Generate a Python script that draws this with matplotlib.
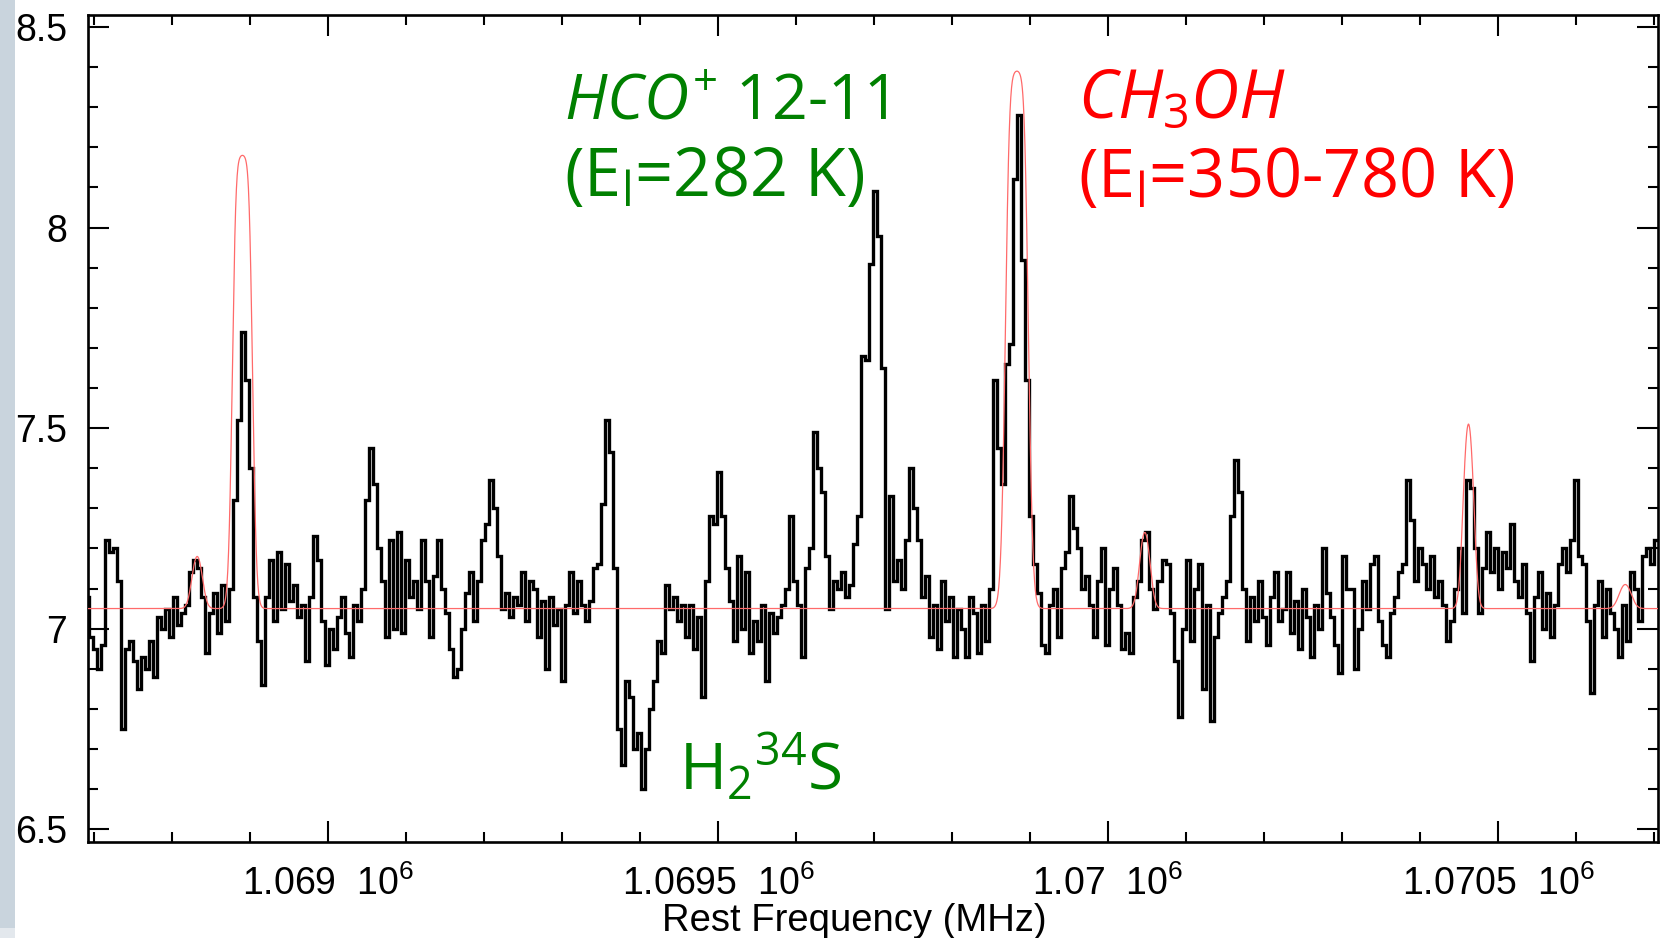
import numpy as np
import matplotlib
matplotlib.use('Agg')
import matplotlib.pyplot as plt
from matplotlib.patches import Rectangle
from matplotlib.ticker import FixedLocator, MultipleLocator

plt.rcParams['font.family'] = ['Liberation Sans', 'DejaVu Sans']
plt.rcParams['mathtext.fontset'] = 'custom'
plt.rcParams['mathtext.rm'] = 'Open Sans'
plt.rcParams['mathtext.it'] = 'Open Sans:italic'

# ---------------- data ----------------
freq_start_mhz = 1068691.0
channel_width_mhz = 5.13

spectrum_k = [
    # first block
    7.08, 6.98, 6.95, 6.90, 6.96, 7.22, 7.19, 7.20, 7.12, 6.75,
    6.95, 6.97, 6.92, 6.85, 6.93, 6.90, 6.97, 6.88, 7.03, 7.00,
    7.05, 6.98, 7.08, 7.01, 7.04, 7.06, 7.14, 7.17, 7.15, 7.08,
    6.94, 7.04, 7.09, 6.99, 7.11, 7.02, 7.10, 7.32, 7.52, 7.74,
    7.62, 7.40, 7.08, 6.97, 6.86, 7.08, 7.17, 7.02, 7.19, 7.05,
    7.16, 7.07, 7.11, 7.03, 7.06, 6.92, 7.08, 7.23, 7.17, 7.02,
    6.91, 7.00, 6.95, 7.03, 7.08, 6.99, 6.93, 7.06, 7.02, 7.10,
    7.32, 7.45, 7.36, 7.20, 7.12, 6.98, 7.22, 7.00, 7.24, 6.99,
    # second block
    7.17, 7.08, 7.12, 7.05, 7.22, 7.12, 6.98, 7.13, 7.22, 7.10,
    7.04, 6.95, 6.88, 6.90, 7.00, 7.09, 7.14, 7.02, 7.12, 7.22,
    7.26, 7.37, 7.30, 7.18, 7.05, 7.09, 7.03, 7.08, 7.06, 7.14,
    7.02, 7.12, 7.10, 6.98, 7.07, 6.90, 7.08, 7.01, 7.05, 6.87,
    7.06, 7.14, 7.04, 7.12, 7.06, 7.02, 7.07, 7.15, 7.16, 7.31,
    7.52, 7.44, 7.15, 6.75, 6.66, 6.87, 6.83, 6.70, 6.74, 6.60,
    6.70, 6.80, 6.87, 6.97, 6.94, 7.11, 7.05, 7.08, 7.02, 7.06,
    6.98, 7.06, 6.95, 7.03, 6.83, 7.12, 7.28, 7.26, 7.39,
    # third block
    7.28, 7.15, 7.07, 6.97, 7.18, 7.00, 7.14, 6.94, 7.02, 6.97,
    7.06, 6.87, 7.04, 6.99, 7.03, 7.06, 7.10, 7.28, 7.12, 7.06,
    6.93, 7.15, 7.20, 7.49, 7.40, 7.34, 7.18, 7.05, 7.12, 7.10,
    7.14, 7.08, 7.11, 7.21, 7.28, 7.68, 7.67, 7.91, 8.09, 7.98,
    7.65, 7.05, 7.33, 7.12, 7.17, 7.10, 7.22, 7.40, 7.30, 7.22,
    7.08, 7.13, 6.98, 7.06, 6.95, 7.12, 7.02, 7.08, 6.93, 7.05,
    7.00, 6.93, 7.08, 7.04, 6.94, 7.06, 6.97, 7.10, 7.62, 7.45,
    7.36, 7.66, 7.71, 8.12, 8.28, 7.92, 7.62, 7.28, 7.16,
    # fourth block
    7.09, 6.96, 6.94, 7.06, 7.10, 6.98, 7.15, 7.19, 7.33, 7.25,
    7.20, 7.10, 7.13, 7.06, 6.98, 7.12, 7.20, 6.96, 7.10, 7.15,
    7.06, 6.95, 6.99, 6.94, 7.08, 7.12, 7.22, 7.24, 7.10, 7.05,
    7.12, 7.17, 7.16, 7.04, 6.92, 6.78, 7.00, 7.17, 6.97, 7.10,
    7.16, 6.85, 7.06, 6.77, 6.98, 7.04, 7.08, 7.12, 7.28, 7.42,
    7.34, 7.10, 6.97, 7.08, 7.02, 7.12, 7.03, 6.96, 7.08, 7.14,
    7.02, 7.05, 7.14, 6.99, 7.07, 6.95, 7.10, 7.03, 6.93, 7.06,
    7.00, 7.20, 7.09, 7.03, 6.96, 6.89, 7.18, 7.10,
    # fifth block
    7.10, 6.90, 7.00, 7.12, 7.05, 7.16, 7.18, 7.02, 6.96, 6.93,
    7.04, 7.08, 7.14, 7.16, 7.37, 7.27, 7.12, 7.20, 7.16, 7.10,
    7.18, 7.08, 7.12, 7.06, 6.97, 7.02, 7.10, 7.20, 7.04, 7.37,
    7.35, 7.20, 7.04, 7.15, 7.24, 7.14, 7.20, 7.10, 7.19, 7.15,
    7.26, 7.12, 7.08, 7.16, 7.04, 6.92, 7.08, 7.14, 7.00, 7.09,
    6.98, 7.06, 7.16, 7.20, 7.14, 7.22, 7.37, 7.18, 7.16, 7.02,
    6.84, 7.06, 7.12, 6.98, 7.10, 7.04, 7.00, 6.93, 7.06, 6.97,
    7.14, 7.10, 7.02, 7.18, 7.20, 7.16, 7.22,
]

# CH3OH model (red): baseline + optically-thick Gaussian components
model_baseline_k = 7.05
line_centers_mhz = [1068832, 1068890, 1069883, 1070047, 1070462, 1070663]
line_peaks_k     = [0.13,    1.13,    1.34,    0.19,    0.46,    0.06]
line_sigma_mhz   = [6.0,     6.6,     7.5,     6.0,     5.5,     7.0]
line_tau         = [0.5,     5.0,     5.0,     0.5,     1.0,     0.5]

x_limits = (1068692, 1070705)
y_limits = (6.468, 8.53)
x_major_ticks = [1069000, 1069500, 1070000, 1070500]
x_tick_labels = [r'1.069  $\mathregular{10^{6}}$', r'1.0695  $\mathregular{10^{6}}$',
                 r'1.07  $\mathregular{10^{6}}$', r'1.0705  $\mathregular{10^{6}}$']
y_major_ticks = [6.5, 7.0, 7.5, 8.0, 8.5]
y_tick_labels = ['6.5', '7', '7.5', '8', '8.5']

# ---------------- figure ----------------
W, H = 1663, 938
fig = plt.figure(figsize=(W / 100, H / 100), dpi=100)
fig.patch.set_facecolor('white')
L, R, T, B = 88, 1658, 15, 842
ax = fig.add_axes([L / W, 1 - B / H, (R - L) / W, (B - T) / H])

freq_mhz = freq_start_mhz + channel_width_mhz * np.arange(len(spectrum_k))
ax.plot(freq_mhz, spectrum_k, drawstyle='steps-mid', color='black', lw=2.4,
        zorder=2, solid_joinstyle='miter')

fine = np.linspace(x_limits[0], x_limits[1], 6000)
model = np.full_like(fine, model_baseline_k)
for c, a, s, t in zip(line_centers_mhz, line_peaks_k, line_sigma_mhz, line_tau):
    g = np.exp(-0.5 * ((fine - c) / s) ** 2)
    model += a * (1 - np.exp(-t * g)) / (1 - np.exp(-t))
ax.plot(fine, model, color='#ff6a6a', lw=0.9, zorder=3)

ax.set_xlim(*x_limits)
ax.set_ylim(*y_limits)

ax.xaxis.set_major_locator(FixedLocator(x_major_ticks))
ax.set_xticklabels(x_tick_labels)
ax.xaxis.set_minor_locator(MultipleLocator(100))
ax.yaxis.set_major_locator(FixedLocator(y_major_ticks))
ax.set_yticklabels(y_tick_labels)
ax.yaxis.set_minor_locator(MultipleLocator(0.1))

ax.tick_params(which='both', direction='in', top=True, right=True, width=1.5,
               colors='black', labelsize=27)
ax.tick_params(which='major', length=15)
ax.tick_params(which='minor', length=7.5)
ax.tick_params(axis='x', which='major', pad=17)
ax.tick_params(axis='y', which='major', pad=15)
for sp in ax.spines.values():
    sp.set_linewidth(1.9)

fig.text(854 / W, 1 - 931 / H, 'Rest Frequency (MHz)', fontsize=27.5,
         ha='center', va='baseline')

ann_font = ['Open Sans', 'DejaVu Sans']
green = '#008000'
red = '#ff0000'
fig.text(564 / W, 1 - 119 / H, r'$HCO^{+}$ 12-11', fontsize=45, color=green,
         family=ann_font, ha='left', va='baseline')
fig.text(564 / W, 1 - 196 / H, r'(E$\mathregular{_l}$=282 K)', fontsize=48, color=green,
         family=ann_font, ha='left', va='baseline')
fig.text(1078 / W, 1 - 118 / H, r'$CH_{3}OH$', fontsize=48, color=red,
         family=ann_font, ha='left', va='baseline')
fig.text(1078 / W, 1 - 197 / H, r'(E$\mathregular{_l}$=350-780 K)', fontsize=48, color=red,
         family=ann_font, ha='left', va='baseline')
fig.text(679 / W, 1 - 790 / H, r'H$\mathregular{_2{}^{34}}$S', fontsize=46, color=green,
         family=ann_font, ha='left', va='baseline')

# grey strip at the left edge of the screenshot
fig.add_artist(Rectangle((0, 1 - 928 / H), 15 / W, 928 / H, transform=fig.transFigure,
                         facecolor='#c9d4dd', edgecolor='none', zorder=20))
fig.add_artist(Rectangle((0, 0), 15 / W, 1 - 928 / H, transform=fig.transFigure,
                         facecolor='#e3e8ed', edgecolor='none', zorder=20))

fig.savefig('out.png', dpi=100)
